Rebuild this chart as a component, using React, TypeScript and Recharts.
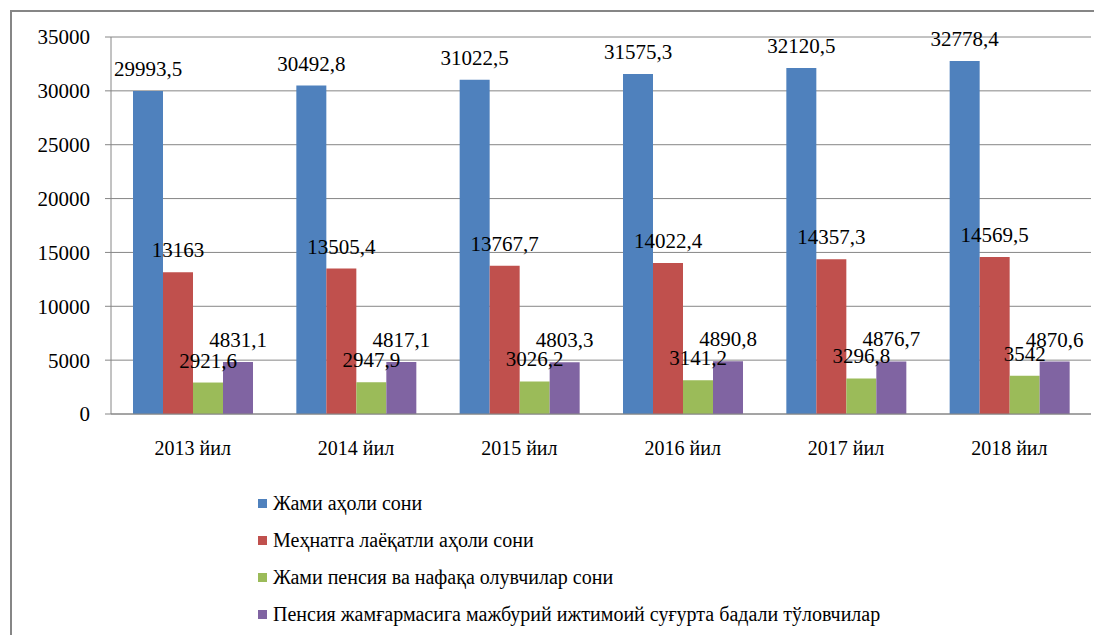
import React from 'react';
import { BarChart, Bar, XAxis, YAxis, CartesianGrid, Legend, LabelList } from 'recharts';

const categories = ['2013 йил', '2014 йил', '2015 йил', '2016 йил', '2017 йил', '2018 йил'];
const seriesNames = [
  'Жами аҳоли сони',
  'Меҳнатга лаёқатли аҳоли сони',
  'Жами пенсия ва нафақа олувчилар сони',
  'Пенсия жамғармасига мажбурий ижтимоий суғурта бадали тўловчилар',
];
const totalPopulation = [29993.5, 30492.8, 31022.5, 31575.3, 32120.5, 32778.4];
const workingAge = [13163, 13505.4, 13767.7, 14022.4, 14357.3, 14569.5];
const pensioners = [2921.6, 2947.9, 3026.2, 3141.2, 3296.8, 3542];
const contributors = [4831.1, 4817.1, 4803.3, 4890.8, 4876.7, 4870.6];
const yTicks = [0, 5000, 10000, 15000, 20000, 25000, 30000, 35000];
const boundaryTicks = [0, 1, 2, 3, 4, 5, 6];

const colors = ['#4F81BD', '#C0504D', '#9BBB59', '#8064A2'];
const keys = ['s0', 's1', 's2', 's3'];

const data = categories.map((c, i) => ({
  name: c,
  s0: totalPopulation[i],
  s1: workingAge[i],
  s2: pensioners[i],
  s3: contributors[i],
}));

const FONT = 'Liberation Serif';
const GRAY = '#868686';

const fmt = (v: any) => String(v).replace('.', ',');

const LegendContent = () => (
  <div style={{ fontFamily: FONT, fontSize: 20, color: '#000' }}>
    {seriesNames.map((n, i) => (
      <div key={n} style={{ display: 'flex', alignItems: 'center', height: 37 }}>
        <span style={{ display: 'inline-block', width: 9, height: 9, background: colors[i], marginRight: 6 }} />
        <span style={{ whiteSpace: 'nowrap', fontFamily: FONT }}>{n}</span>
      </div>
    ))}
  </div>
);

const EmptyTick = () => <g />;

export default function App() {
  return (
    <div style={{ position: 'absolute', left: 0, top: 0, width: 1102, height: 635, background: '#fff', overflow: 'hidden', fontFamily: FONT }}>
      <div
        style={{
          position: 'absolute',
          left: 10,
          top: 10,
          width: 1084,
          height: 640,
          borderLeft: `2px solid ${GRAY}`,
          borderTop: `2px solid ${GRAY}`,
          boxSizing: 'border-box',
        }}
      />
      <div style={{ position: 'absolute', left: 0, top: 0, fontFamily: FONT }}>
        <BarChart
          width={1102}
          height={635}
          data={data}
          margin={{ top: 37, right: 11, left: 0, bottom: 160 }}
          barGap={0}
          style={{ fontFamily: FONT }}
        >
          <CartesianGrid horizontal vertical={false} stroke={GRAY} strokeWidth={1} />
          <XAxis
            xAxisId="bounds"
            type="number"
            domain={[0, 6]}
            ticks={boundaryTicks}
            tick={EmptyTick}
            tickSize={6}
            tickLine={{ stroke: GRAY }}
            axisLine={false}
            height={0}
            allowDataOverflow
          />
          <XAxis
            dataKey="name"
            tickSize={0}
            tickMargin={27}
            axisLine={{ stroke: GRAY }}
            tickLine={false}
            tick={{ fill: '#000', fontSize: 20, fontFamily: FONT }}
            height={61}
            interval={0}
          />
          <YAxis
            width={111}
            domain={[0, 35000]}
            ticks={yTicks}
            interval={0}
            tickSize={6}
            tickMargin={15}
            axisLine={{ stroke: GRAY }}
            tickLine={{ stroke: GRAY }}
            tick={{ fill: '#000', fontSize: 21, fontFamily: FONT }}
          />
          <Legend
            layout="vertical"
            align="center"
            verticalAlign="middle"
            content={LegendContent}
            wrapperStyle={{ left: 258, top: 485, width: 700, fontFamily: FONT }}
          />
          {keys.map((k, i) => (
            <Bar
              key={k}
              dataKey={k}
              name={seriesNames[i]}
              fill={colors[i]}
              barSize={30}
              isAnimationActive={false}
            >
              <LabelList
                dataKey={k}
                position="top"
                offset={15}
                formatter={fmt}
                fontFamily={FONT}
                fontSize={21}
                fill="#000"
              />
            </Bar>
          ))}
        </BarChart>
      </div>
    </div>
  );
}
